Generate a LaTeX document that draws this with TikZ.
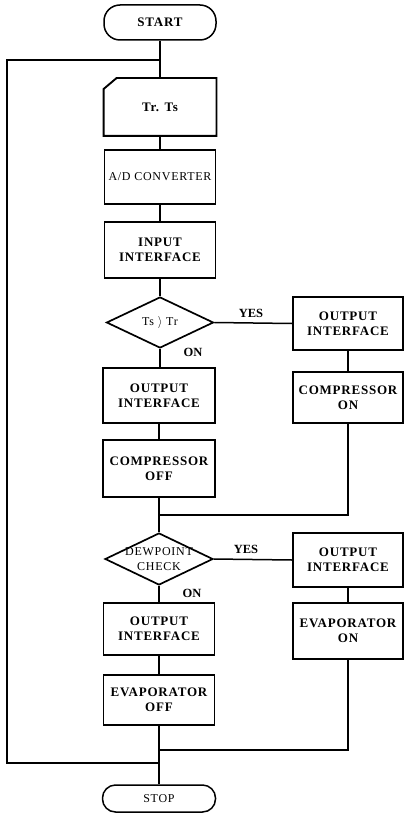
\documentclass[tikz,border=0pt]{standalone}
\usepackage{fontspec}
\setmainfont{Liberation Serif}
\newfontfamily\lsp[LetterSpace=6]{Liberation Serif}
\usetikzlibrary{shapes.geometric}
\tikzset{
  boxfont/.style={font=\lsp\bfseries\fontsize{13}{15}\selectfont},
  thinfont/.style={font=\lsp\fontsize{12}{14}\selectfont},
  box/.style={draw, line width=1.9pt, minimum width=111pt, minimum height=54pt,
    inner sep=1pt, align=center, boxfont},
  term/.style={draw, line width=1.5pt, rounded corners=16pt, minimum width=112pt,
    inner sep=1pt, align=center},
  dia/.style={draw, diamond, line width=1.7pt, inner sep=0pt},
  conn/.style={line width=1.5pt},
  lbl/.style={font=\bfseries\fontsize{12.5}{14}\selectfont, inner sep=1pt}
}
\begin{document}
\begin{tikzpicture}[x=1pt, y=-1pt]
\useasboundingbox (0,0) rectangle (405,821);
% left column
\node[term, minimum height=35pt, boxfont] (start) at (160,22.5) {START};
\node[box, draw=none, minimum height=56pt] (trts) at (160,107) {Tr. Ts};
\draw[line width=1.9pt] ([xshift=13pt]trts.north west) -- (trts.north east)
  -- (trts.south east) -- (trts.south west) -- ([yshift=-11pt]trts.north west) -- cycle;
\node[box, thinfont] (ad) at (160,177) {A/D CONVERTER};
\node[box, minimum height=56pt] (inp) at (160,250) {INPUT\\INTERFACE};
\node[dia, minimum width=107pt, minimum height=51pt,
  label={[thinfont]center:Ts $\rangle$ Tr}] (d1) at (160,322.5) {};
\node[box, minimum width=112pt, minimum height=55pt] (lout1) at (159,395.5) {OUTPUT\\INTERFACE};
\node[box, minimum width=112pt, minimum height=57pt] (coff) at (159,468.5) {COMPRESSOR\\OFF};
\node[dia, minimum width=108pt, minimum height=52pt,
  label={[align=center, font=\lsp\fontsize{12}{15}\selectfont]center:DEWPOINT\\CHECK}] (d2) at (159,559) {};
\node[box, minimum width=111pt, minimum height=52pt] (lout2) at (159,629) {OUTPUT\\INTERFACE};
\node[box, minimum width=111pt, minimum height=50pt] (eoff) at (159,700) {EVAPORATOR\\OFF};
\node[term, minimum height=27pt, minimum width=113pt, thinfont, rounded corners=13pt] (stop) at (159,798.5) {STOP};
% right column
\node[box, minimum width=110pt, minimum height=53pt] (rout1) at (348,323.5) {OUTPUT\\INTERFACE};
\node[box, minimum width=110pt, minimum height=51pt] (con) at (348,397.5) {COMPRESSOR\\ON};
\node[box, minimum width=110pt, minimum height=54pt] (rout2) at (348,560) {OUTPUT\\INTERFACE};
\node[box, minimum width=110pt, minimum height=56pt] (eon) at (348,631) {EVAPORATOR\\ON};
% junctions
\coordinate (j0) at (160,60);
\coordinate (m1) at (159,515);
\coordinate (m2) at (159,750);
\coordinate (j3) at (159,763);
% connectors
\draw[conn] (start) -- (trts);
\draw[conn] (trts) -- (ad);
\draw[conn] (ad) -- (inp);
\draw[conn] (inp) -- (d1);
\draw[conn] (d1.south) -- (d1.south |- lout1.north);
\draw[conn] (lout1) -- (coff);
\draw[conn] (d1.east) -- (rout1.west);
\draw[conn] (rout1) -- (con);
\draw[conn] (coff.south) -- (d2.north);
\draw[conn] (con.south) |- (m1);
\draw[conn] (d2.east) -- (rout2.west);
\draw[conn] (rout2) -- (eon);
\draw[conn] (d2) -- (lout2);
\draw[conn] (lout2) -- (eoff);
\draw[conn] (eoff.south) -- (stop.north);
\draw[conn] (eon.south) |- (m2);
\draw[conn] (j0) -| (7,763) -- (j3);
% labels
\node[lbl] at (251,313) {YES};
\node[lbl] at (193,352) {ON};
\node[lbl] at (246,549) {YES};
\node[lbl] at (192,593) {ON};
\end{tikzpicture}
\end{document}
